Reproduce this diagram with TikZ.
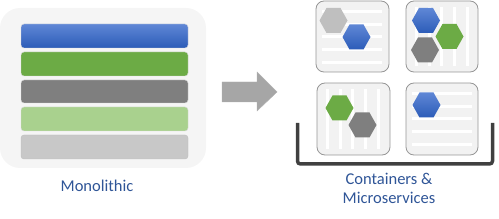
\documentclass[tikz,border=0pt]{standalone}
\usepackage{fontspec}
\setmainfont{Carlito}
\definecolor{txtblue}{RGB}{47,85,151}
\definecolor{bgmono}{RGB}{245,245,245}
\definecolor{cfill}{RGB}{242,242,242}
\definecolor{cborder}{RGB}{150,150,150}
\definecolor{blueT}{RGB}{95,135,214}
\definecolor{blueB}{RGB}{44,92,184}
\definecolor{greenM}{RGB}{108,171,69}
\definecolor{grayM}{RGB}{127,127,127}
\definecolor{lgreen}{RGB}{169,209,142}
\definecolor{lgray}{RGB}{200,200,200}
\definecolor{hexlgray}{RGB}{191,191,191}
\definecolor{arrowgray}{RGB}{166,166,166}
\definecolor{bracket}{RGB}{64,64,64}
\tikzset{
  bar/.style={rounded corners=3pt, draw=black!15, line width=0.4pt},
  cbox/.style={draw=cborder, fill=cfill, rounded corners=8pt, line width=0.8pt},
  stripe/.style={fill=white, draw=none},
  hexpic/.pic={\path[pic actions] (14,0) -- (7,12.5) -- (-7,12.5) -- (-14,0) -- (-7,-12.5) -- (7,-12.5) -- cycle;},
  bluehex/.style={top color=blueT, bottom color=blueB},
  greenhex/.style={fill=greenM},
  grayhex/.style={fill=grayM},
  lgrayhex/.style={fill=hexlgray},
  lbl/.style={text=txtblue, font=\fontsize{16.5}{19}\selectfont, align=center, inner sep=0pt}
}
\begin{document}
\begin{tikzpicture}[x=1pt,y=-1pt]
\useasboundingbox (0,0) rectangle (499,219);
% monolithic
\fill[bgmono, rounded corners=20pt] (0,8) rectangle (206,168);
\shade[bar, top color=blueT, bottom color=blueB] (21,24) rectangle (188,48);
\fill[bar, fill=greenM] (21,52) rectangle (188,76);
\fill[bar, fill=grayM] (21,80) rectangle (188,103);
\fill[bar, fill=lgreen] (21,107) rectangle (188,131);
\filldraw[bar, fill=lgray, draw=black!25] (21,135) rectangle (188,159);
\node[lbl] (mono) at (97,186) {Monolithic};
% arrow
\filldraw[fill=arrowgray, draw=black!30, line width=0.4pt]
  (222,82) -- (257,82) -- (257,72) -- (277,92) -- (257,111) -- (257,102) -- (222,102) -- cycle;
% container boxes
\draw[cbox] (316,1) rectangle (389,72);
\draw[cbox] (406,1) rectangle (478,72);
\draw[cbox] (317,83) rectangle (390,155);
\draw[cbox] (406,83) rectangle (478,155);
% stripes
\foreach \o in {9,22,34,47,60} {
  \fill[stripe] (322,1+\o) rectangle (382,4+\o);
  \fill[stripe] (412,83+\o) rectangle (472,86+\o);
  \fill[stripe] (406+\o,7) rectangle (409+\o,66);
  \fill[stripe] (317+\o,89) rectangle (320+\o,149);
}
% hexagons
\pic[lgrayhex] at (333.5,20.5) {hexpic};
\pic[bluehex] at (356.5,37) {hexpic};
\pic[bluehex] at (426,20.5) {hexpic};
\pic[greenhex] at (449.5,36.5) {hexpic};
\pic[grayhex] at (425,50) {hexpic};
\pic[greenhex] at (339.5,108) {hexpic};
\pic[grayhex] at (362.5,125) {hexpic};
\pic[bluehex] at (426.5,105) {hexpic};
% bracket
\draw[bracket, line width=3.5pt, rounded corners=3pt] (297.5,123) -- (297.5,164) -- (492.5,164) -- (492.5,123);
\node[lbl] (cm) at (389,188.5) {Containers \&\\Microservices};
\end{tikzpicture}
\end{document}
